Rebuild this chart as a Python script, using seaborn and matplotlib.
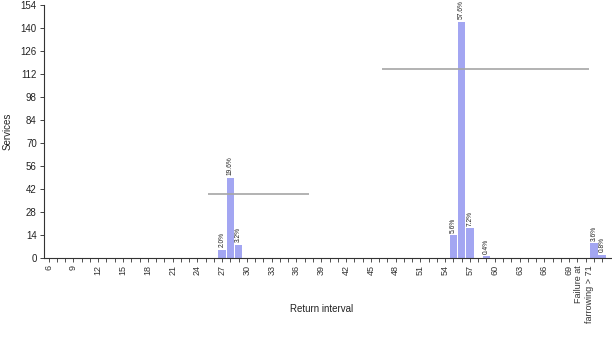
import matplotlib
matplotlib.use("Agg")
import matplotlib.pyplot as plt
import seaborn as sns
import pandas as pd
import numpy as np

# ---- data ----
interval_days = list(range(6, 72))            # return-interval categories 6..71
extra_categories = [">71", "Failure at farrowing"]
observed_intervals = [27, 28, 29, 55, 56, 57, 59]
observed_services = [5, 49, 8, 14, 144, 18, 1]
extra_services = [9, 2]
y_ticks = [0, 14, 28, 42, 56, 70, 84, 98, 112, 126, 140, 154]
last_tick_label = "Failure at\nfarrowing > 71"
# horizontal reference lines: (level, from interval, to interval)
ref_levels = [38.8, 115.4]
ref_from = [25.3, 46.4]
ref_to = [37.5, 71.4]

# ---- table ----
categories = [str(d) for d in interval_days] + extra_categories
counts = dict(zip([str(d) for d in observed_intervals], observed_services))
counts.update(dict(zip(extra_categories, extra_services)))
df = pd.DataFrame({"cat": categories})
df["services"] = df["cat"].map(counts).fillna(0)
total = df["services"].sum()

sns.set_style("white")
plt.rcParams["font.family"] = ["Liberation Sans", "DejaVu Sans"]

fig = plt.figure(figsize=(6.12, 3.42), dpi=100)
ax = fig.add_axes([0.0714, 0.2456, 0.93, 0.7394])

sns.barplot(data=df, x="cat", y="services", order=categories, color="#a3a6f2",
            saturation=1, width=0.92, ax=ax, linewidth=0)

# percentage labels
for i, (c, v) in enumerate(zip(df["cat"], df["services"])):
    if v > 0:
        ax.text(i, v + 1.5, f"{100 * v / total:.1f}%", rotation=90, ha="center",
                va="bottom", fontsize=4.8, color="#222222")

# reference lines (in interval units -> category index)
first = interval_days[0]
for lvl, a, b in zip(ref_levels, ref_from, ref_to):
    ax.hlines(lvl, a - first, b - first, color="#a6a6a6", linewidth=1.2)

ax.set_ylim(0, 154)
ax.set_yticks(y_ticks)
ax.set_xlim(-0.6, 68.3)

major_idx = list(range(0, len(interval_days), 3)) + [len(interval_days)]
major_lbl = [categories[i] for i in major_idx[:-1]] + [last_tick_label]
ax.set_xticks(major_idx)
ax.set_xticklabels(major_lbl, rotation=90, fontsize=6.5, color="#222222")
for t in ax.get_xticklabels()[-1:]:
    t.set_ha("right")
ax.set_xticks(range(len(categories)), minor=True)
ax.tick_params(axis="x", which="both", direction="out", length=3, width=0.6,
               bottom=True, colors="#333333", pad=2)
ax.tick_params(axis="y", direction="out", length=3, width=0.6, left=True,
               labelsize=7, colors="#222222", pad=2)

ax.set_xlabel("")
fig.text(322 / 612, 1 - 309 / 342, "Return interval", fontsize=7,
         color="#222222", ha="center", va="center")
ax.set_ylabel("Services", fontsize=7, color="#222222", labelpad=6)

sns.despine(ax=ax, top=True, right=True)
for s in ["left", "bottom"]:
    ax.spines[s].set_color("#333333")
    ax.spines[s].set_linewidth(0.8)

fig.savefig("out.png", dpi=100)
